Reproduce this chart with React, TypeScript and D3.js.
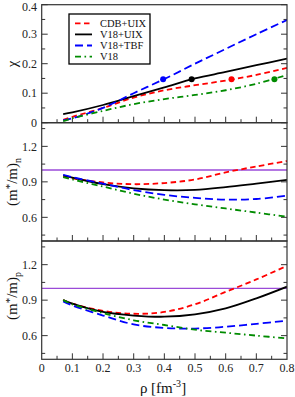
import React from 'react';
import * as d3 from 'd3';

// density grid (fm^-3)
const rho = [0.07, 0.1, 0.2, 0.3, 0.4, 0.5, 0.6, 0.7, 0.8];

// proton fraction x
const xCDB = [0.01, 0.02, 0.05, 0.085, 0.11, 0.127, 0.143, 0.162, 0.186];
const xV18UIX = [0.029, 0.035, 0.06, 0.09, 0.12, 0.15, 0.172, 0.195, 0.217];
const xTBF = [0.008, 0.015, 0.05, 0.1, 0.148, 0.2, 0.25, 0.3, 0.348];
const xV18 = [0.005, 0.015, 0.04, 0.063, 0.08, 0.094, 0.11, 0.132, 0.162];

// neutron effective mass
const mnCDB = [0.945, 0.93, 0.895, 0.88, 0.89, 0.92, 0.98, 1.03, 1.076];
const mnV18UIX = [0.955, 0.935, 0.88, 0.845, 0.83, 0.832, 0.855, 0.885, 0.916];
const mnTBF = [0.96, 0.94, 0.885, 0.83, 0.79, 0.765, 0.75, 0.755, 0.783];
const mnV18 = [0.94, 0.92, 0.86, 0.8, 0.75, 0.71, 0.675, 0.64, 0.605];

// proton effective mass
const mpCDB = [0.9, 0.87, 0.81, 0.785, 0.8, 0.865, 0.97, 1.075, 1.19];
const mpV18UIX = [0.9, 0.87, 0.8, 0.77, 0.76, 0.78, 0.83, 0.915, 1.014];
const mpTBF = [0.89, 0.855, 0.77, 0.695, 0.665, 0.66, 0.675, 0.7, 0.726];
const mpV18 = [0.9, 0.865, 0.79, 0.73, 0.69, 0.65, 0.625, 0.6, 0.577];

// markers on the x panel
const dotRho = [0.619, 0.489, 0.396, 0.759];
const dotX = [0.147, 0.147, 0.147, 0.147];

const names = ['CDB+UIX', 'V18+UIX', 'V18+TBF', 'V18'];
const colors = ['#ff0000', '#000000', '#0000ff', '#008b00'];
const dashes = ['5.5,3.5', '', '8,4', '6,3.5,1.6,3.5'];

const xTicks = [0, 0.1, 0.2, 0.3, 0.4, 0.5, 0.6, 0.7, 0.8];

const W = 295, H = 397;
const left = 41.7, right = 287;
const font = '"Liberation Serif", "DejaVu Serif", serif';
const axisColor = '#333';

const x = d3.scaleLinear().domain([0, 0.8]).range([left, right]);

const panels = [
  { top: 4.7, bottom: 122.7, domain: [0, 0.4], major: [0, 0.1, 0.2, 0.3, 0.4], minorStep: 0.05, labels: ['0', '0.1', '0.2', '0.3', '0.4'], series: [xCDB, xV18UIX, xTBF, xV18] },
  { top: 122.7, bottom: 241, domain: [0.4, 1.4], major: [0.6, 0.9, 1.2], minorStep: 0.15, labels: ['0.6', '0.9', '1.2'], series: [mnCDB, mnV18UIX, mnTBF, mnV18] },
  { top: 241, bottom: 359.3, domain: [0.4, 1.4], major: [0.6, 0.9, 1.2], minorStep: 0.15, labels: ['0.6', '0.9', '1.2'], series: [mpCDB, mpV18UIX, mpTBF, mpV18] },
];

const Panel = ({ p, idx }: { p: any; idx: number }) => {
  const y = d3.scaleLinear().domain(p.domain).range([p.bottom, p.top]);
  const line = d3.line<number>().x((_, i) => x(rho[i])).y(d => y(d)).curve(d3.curveCatmullRom);
  const minors = d3.range(p.major[0] - p.minorStep * 3, p.domain[1] + 1e-6, p.minorStep)
    .filter(v => v > p.domain[0] + 1e-6 && v < p.domain[1] - 1e-6 && !p.major.some((m: number) => Math.abs(m - v) < 1e-6));
  const xMinors = d3.range(0.05, 0.8, 0.1);
  const clipId = 'clip' + idx;
  return (
    <g>
      <defs>
        <clipPath id={clipId}>
          <rect x={left} y={p.top} width={right - left} height={p.bottom - p.top} />
        </clipPath>
      </defs>
      {/* y ticks left + right */}
      {p.major.map((v: number) => (
        <g key={'M' + v}>
          <line x1={left} x2={left + 6} y1={y(v)} y2={y(v)} stroke={axisColor} />
          <line x1={right} x2={right - 6} y1={y(v)} y2={y(v)} stroke={axisColor} />
        </g>
      ))}
      {minors.map((v: number) => (
        <g key={'m' + v}>
          <line x1={left} x2={left + 3.5} y1={y(v)} y2={y(v)} stroke={axisColor} />
          <line x1={right} x2={right - 3.5} y1={y(v)} y2={y(v)} stroke={axisColor} />
        </g>
      ))}
      {/* x ticks on panel bottom */}
      {xTicks.slice(1, -1).map(v => (
        <line key={'X' + v} x1={x(v)} x2={x(v)} y1={p.bottom} y2={p.bottom - 6} stroke={axisColor} />
      ))}
      {xMinors.map(v => (
        <line key={'x' + v} x1={x(v)} x2={x(v)} y1={p.bottom} y2={p.bottom - 3.5} stroke={axisColor} />
      ))}
      {p.major.map((v: number, i: number) => (
        <text key={'L' + v} x={37} y={Math.max(y(v), 6.5)} dy="0.35em" textAnchor="end" fontSize={12} fontFamily={font} fill="#222">{p.labels[i]}</text>
      ))}
      <g clipPath={`url(#${clipId})`}>
        {idx > 0 && (
          <line x1={left} x2={right} y1={y(1)} y2={y(1)} stroke="#9a4ad8" strokeWidth={1.3} />
        )}
        {p.series.map((s: number[], i: number) => (
          <path key={i} d={line(s) || ''} fill="none" stroke={colors[i]} strokeWidth={1.8} strokeDasharray={dashes[i]} />
        ))}
      </g>
      <rect x={left} y={p.top} width={right - left} height={p.bottom - p.top} fill="none" stroke={axisColor} strokeWidth={1.2} />
    </g>
  );
};

export default function App() {
  const y1 = d3.scaleLinear().domain(panels[0].domain).range([panels[0].bottom, panels[0].top]);
  return (
    <svg width={W} height={H} style={{ position: 'absolute', left: 0, top: 0, background: '#fff' }}>
      {panels.map((p, i) => <Panel key={i} p={p} idx={i} />)}
      {dotRho.map((r, i) => (
        <circle key={i} cx={x(r)} cy={y1(dotX[i])} r={3} fill={colors[i]} />
      ))}
      {/* legend */}
      <rect x={69} y={14} width={81} height={50} fill="#fff" stroke="#000" strokeWidth={1.3} />
      {names.map((n, i) => {
        const yy = 23.3 + i * 11.1;
        return (
          <g key={n}>
            <line x1={75} x2={92} y1={yy} y2={yy} stroke={colors[i]} strokeWidth={1.8} strokeDasharray={dashes[i]} />
            <text x={100} y={yy} dy="0.35em" fontSize={10.5} fontFamily={font} fill="#111">{n}</text>
          </g>
        );
      })}
      {/* x tick labels */}
      {xTicks.map(v => (
        <text key={v} x={x(v)} y={372} textAnchor="middle" fontSize={12} fontFamily={font} fill="#222">{v === 0 ? '0' : d3.format('.1f')(v)}</text>
      ))}
      <text x={163} y={393} textAnchor="middle" fontSize={15} fontFamily={font} fill="#111">
        ρ [fm<tspan dy={-6} fontSize={10}>-3</tspan><tspan dy={6}>]</tspan>
      </text>
      {/* y axis labels */}
      <text transform="translate(17,64) rotate(-90)" textAnchor="middle" fontSize={15} fontFamily={font} fill="#111">χ</text>
      <text transform="translate(17,182) rotate(-90)" textAnchor="middle" fontSize={15} fontFamily={font} fill="#111">
        (m<tspan dy={-4} fontSize={11}>*</tspan><tspan dy={4}>/m)</tspan><tspan dy={4} fontSize={10}>n</tspan>
      </text>
      <text transform="translate(17,296) rotate(-90)" textAnchor="middle" fontSize={15} fontFamily={font} fill="#111">
        (m<tspan dy={-4} fontSize={11}>*</tspan><tspan dy={4}>/m)</tspan><tspan dy={4} fontSize={10}>p</tspan>
      </text>
    </svg>
  );
}
